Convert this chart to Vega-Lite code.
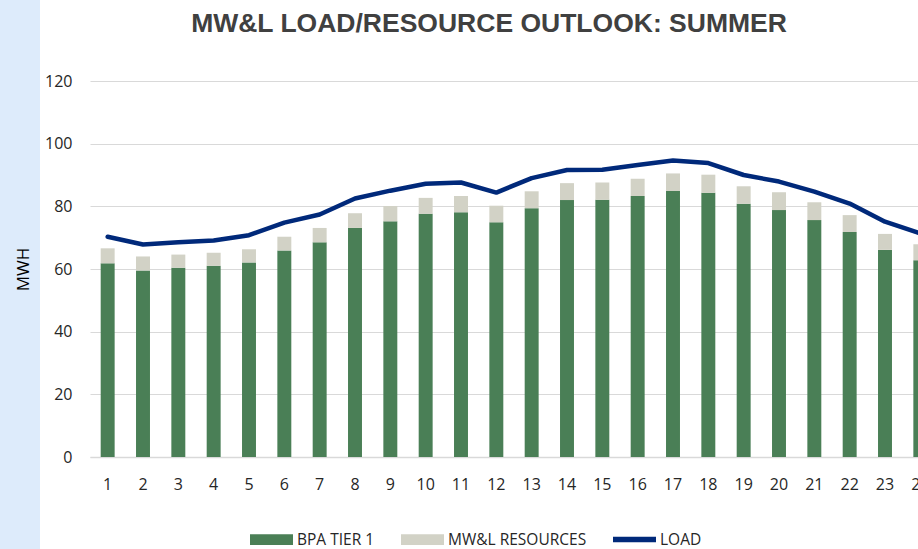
{
  "$schema": "https://vega.github.io/schema/vega-lite/v6.json",
  "padding": 0,
  "background": "white",
  "config": {"font": "Open Sans", "view": {"stroke": null}},
  "spacing": 50,
  "bounds": "flush",
  "hconcat": [
    {
      "width": 40,
      "height": 549,
      "data": {"values": []},
      "mark": "point",
      "view": {"fill": "#DDEBFB", "stroke": null}
    },
    {
      "spacing": 33,
      "bounds": "flush",
      "vconcat": [
        {
          "width": 798,
          "height": 48,
          "data": {"values": [{"title": "MW&L LOAD/RESOURCE OUTLOOK: SUMMER"}]},
          "mark": {"type": "text", "font": "Liberation Sans", "fontWeight": "bold", "fontSize": 26.5, "color": "#404040", "baseline": "middle", "align": "center"},
          "encoding": {"text": {"field": "title", "type": "nominal"}}
        },
        {
          "width": 848,
          "height": 376,
          "data": {"values": [
            {"hour": 1, "series": "BPA Tier 1", "mwh": 61.8}, {"hour": 1, "series": "MW&L Resources", "mwh": 4.8}, {"hour": 1, "series": "Load", "mwh": 70.3},
            {"hour": 2, "series": "BPA Tier 1", "mwh": 59.5}, {"hour": 2, "series": "MW&L Resources", "mwh": 4.5}, {"hour": 2, "series": "Load", "mwh": 67.8},
            {"hour": 3, "series": "BPA Tier 1", "mwh": 60.4}, {"hour": 3, "series": "MW&L Resources", "mwh": 4.2}, {"hour": 3, "series": "Load", "mwh": 68.5},
            {"hour": 4, "series": "BPA Tier 1", "mwh": 61.0}, {"hour": 4, "series": "MW&L Resources", "mwh": 4.2}, {"hour": 4, "series": "Load", "mwh": 69.1},
            {"hour": 5, "series": "BPA Tier 1", "mwh": 62.1}, {"hour": 5, "series": "MW&L Resources", "mwh": 4.2}, {"hour": 5, "series": "Load", "mwh": 70.8},
            {"hour": 6, "series": "BPA Tier 1", "mwh": 65.9}, {"hour": 6, "series": "MW&L Resources", "mwh": 4.4}, {"hour": 6, "series": "Load", "mwh": 74.8},
            {"hour": 7, "series": "BPA Tier 1", "mwh": 68.5}, {"hour": 7, "series": "MW&L Resources", "mwh": 4.6}, {"hour": 7, "series": "Load", "mwh": 77.4},
            {"hour": 8, "series": "BPA Tier 1", "mwh": 73.1}, {"hour": 8, "series": "MW&L Resources", "mwh": 4.7}, {"hour": 8, "series": "Load", "mwh": 82.5},
            {"hour": 9, "series": "BPA Tier 1", "mwh": 75.2}, {"hour": 9, "series": "MW&L Resources", "mwh": 4.9}, {"hour": 9, "series": "Load", "mwh": 85.0},
            {"hour": 10, "series": "BPA Tier 1", "mwh": 77.6}, {"hour": 10, "series": "MW&L Resources", "mwh": 5.1}, {"hour": 10, "series": "Load", "mwh": 87.2},
            {"hour": 11, "series": "BPA Tier 1", "mwh": 78.1}, {"hour": 11, "series": "MW&L Resources", "mwh": 5.2}, {"hour": 11, "series": "Load", "mwh": 87.6},
            {"hour": 12, "series": "BPA Tier 1", "mwh": 74.9}, {"hour": 12, "series": "MW&L Resources", "mwh": 5.3}, {"hour": 12, "series": "Load", "mwh": 84.4},
            {"hour": 13, "series": "BPA Tier 1", "mwh": 79.4}, {"hour": 13, "series": "MW&L Resources", "mwh": 5.4}, {"hour": 13, "series": "Load", "mwh": 89.0},
            {"hour": 14, "series": "BPA Tier 1", "mwh": 82.0}, {"hour": 14, "series": "MW&L Resources", "mwh": 5.4}, {"hour": 14, "series": "Load", "mwh": 91.6},
            {"hour": 15, "series": "BPA Tier 1", "mwh": 82.1}, {"hour": 15, "series": "MW&L Resources", "mwh": 5.5}, {"hour": 15, "series": "Load", "mwh": 91.7},
            {"hour": 16, "series": "BPA Tier 1", "mwh": 83.3}, {"hour": 16, "series": "MW&L Resources", "mwh": 5.5}, {"hour": 16, "series": "Load", "mwh": 93.2},
            {"hour": 17, "series": "BPA Tier 1", "mwh": 84.9}, {"hour": 17, "series": "MW&L Resources", "mwh": 5.6}, {"hour": 17, "series": "Load", "mwh": 94.6},
            {"hour": 18, "series": "BPA Tier 1", "mwh": 84.3}, {"hour": 18, "series": "MW&L Resources", "mwh": 5.8}, {"hour": 18, "series": "Load", "mwh": 93.8},
            {"hour": 19, "series": "BPA Tier 1", "mwh": 80.8}, {"hour": 19, "series": "MW&L Resources", "mwh": 5.6}, {"hour": 19, "series": "Load", "mwh": 90.0},
            {"hour": 20, "series": "BPA Tier 1", "mwh": 78.8}, {"hour": 20, "series": "MW&L Resources", "mwh": 5.7}, {"hour": 20, "series": "Load", "mwh": 87.9},
            {"hour": 21, "series": "BPA Tier 1", "mwh": 75.6}, {"hour": 21, "series": "MW&L Resources", "mwh": 5.7}, {"hour": 21, "series": "Load", "mwh": 84.7},
            {"hour": 22, "series": "BPA Tier 1", "mwh": 71.8}, {"hour": 22, "series": "MW&L Resources", "mwh": 5.4}, {"hour": 22, "series": "Load", "mwh": 80.9},
            {"hour": 23, "series": "BPA Tier 1", "mwh": 66.1}, {"hour": 23, "series": "MW&L Resources", "mwh": 5.1}, {"hour": 23, "series": "Load", "mwh": 75.1},
            {"hour": 24, "series": "BPA Tier 1", "mwh": 62.8}, {"hour": 24, "series": "MW&L Resources", "mwh": 5.1}, {"hour": 24, "series": "Load", "mwh": 71.4}
          ]},
          "layer": [
            {
              "transform": [{"filter": "datum.series !== 'Load'"}],
              "mark": {"type": "bar"},
              "encoding": {
                "x": {
                  "field": "hour", "type": "ordinal",
                  "scale": {"paddingInner": 0.605, "paddingOuter": 0.3025},
                  "axis": {"title": null, "ticks": false, "domainColor": "#D9D9D9", "domainWidth": 1.5, "labelAngle": 0, "labelFontSize": 16, "labelColor": "#262626", "labelPadding": 19, "grid": false}
                },
                "y": {
                  "field": "mwh", "type": "quantitative", "stack": "zero",
                  "scale": {"domain": [0, 120], "nice": false},
                  "axis": {"title": "MWH", "values": [0, 20, 40, 60, 80, 100, 120], "ticks": false, "domain": false, "gridColor": "#D9D9D9", "labelFontSize": 16, "labelColor": "#262626", "labelPadding": 18, "titleFontSize": 17, "titleFontWeight": "normal", "titleColor": "#000000", "titlePadding": 12}
                },
                "order": {"field": "series", "sort": "ascending"},
                "color": {
                  "field": "series", "type": "nominal",
                  "scale": {"domain": ["BPA Tier 1", "MW&L Resources", "Load"], "range": ["#4A7F56", "#D2D2C6", "#00297A"]},
                  "legend": {
                    "title": null, "orient": "none", "legendX": 250, "legendY": 518, "direction": "horizontal",
                    "symbolSize": 1849, "symbolStrokeWidth": 0, "labelFontSize": 15.5, "labelColor": "#262626",
                    "labelOffset": 4, "columnPadding": 26, "padding": 0, "labelExpr": "upper(datum.label)",
                    "encode": {"symbols": {"update": {
                      "shape": {"signal": "datum.value === 'Load' ? 'M-1,-0.13H1V0.13H-1Z' : 'M-1,-0.25H1V0.25H-1Z'"},
                      "fill": {"scale": "color", "field": "value"},
                      "stroke": {"value": "transparent"},
                      "strokeWidth": {"value": 0},
                      "opacity": {"value": 1}
                    }}}
                  }
                }
              }
            },
            {
              "transform": [{"filter": "datum.series === 'Load'"}],
              "mark": {"type": "line", "strokeWidth": 4.5, "strokeCap": "round", "strokeJoin": "round"},
              "encoding": {
                "x": {"field": "hour", "type": "ordinal"},
                "y": {"field": "mwh", "type": "quantitative"},
                "color": {"field": "series", "type": "nominal"}
              }
            }
          ]
        }
      ]
    }
  ]
}
